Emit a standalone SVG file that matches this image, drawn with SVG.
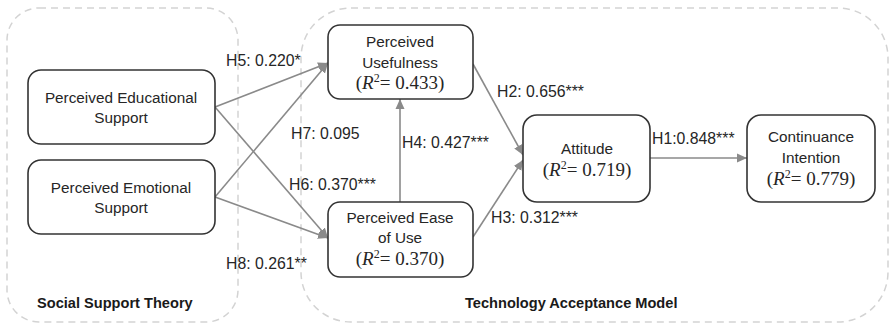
<svg xmlns="http://www.w3.org/2000/svg" width="889" height="324" viewBox="0 0 889 324">
<style>
.grp{fill:none;stroke:#d3d3d3;stroke-width:1.5;stroke-dasharray:7,5}
.box{fill:#fff;stroke:#333;stroke-width:1.6}
.t{font-family:"Liberation Sans",Arial,sans-serif;font-size:15.3px;fill:#262626;text-anchor:middle}
.m{font-family:"Liberation Serif","Times New Roman",serif;font-size:19px;fill:#262626;text-anchor:middle}
.lbl{font-family:"Liberation Sans",Arial,sans-serif;font-size:15.8px;fill:#262626}
.bold{font-family:"Liberation Sans",Arial,sans-serif;font-size:14.6px;font-weight:bold;fill:#1a1a1a}
.c{stroke:#8a8a8a;stroke-width:1.6;fill:none;marker-end:url(#ah)}
</style>
<defs>
<marker id="ah" viewBox="0 0 10 10" refX="10" refY="5" markerWidth="10" markerHeight="10" markerUnits="userSpaceOnUse" orient="auto">
<path d="M0,0.5 L10,5 L0,9.5 Z" fill="#8a8a8a"/>
</marker>
</defs>
<g id="group-sst">
<rect class="grp" x="7" y="8" width="231" height="314" rx="32"/>
<text class="bold" x="37" y="308">Social Support Theory</text>
</g>
<g id="group-tam">
<rect class="grp" x="301" y="8" width="587" height="314" rx="50"/>
<text class="bold" x="465" y="308">Technology Acceptance Model</text>
</g>
<g id="connectors">
<line class="c" x1="215" y1="107" x2="328" y2="63"/>
<line class="c" x1="215" y1="197" x2="328" y2="63"/>
<line class="c" x1="215" y1="107" x2="328" y2="238"/>
<line class="c" x1="215" y1="197" x2="328" y2="238"/>
<line class="c" x1="400" y1="202" x2="400" y2="99"/>
<line class="c" x1="473" y1="64" x2="523" y2="155"/>
<line class="c" x1="473" y1="237" x2="523" y2="160"/>
<line class="c" x1="650" y1="158" x2="747" y2="158"/>
<text class="lbl" x="226" y="66">H5: 0.220*</text>
<text class="lbl" x="291" y="139">H7: 0.095</text>
<text class="lbl" x="289" y="190">H6: 0.370***</text>
<text class="lbl" x="226" y="269">H8: 0.261**</text>
<text class="lbl" x="402" y="148">H4: 0.427***</text>
<text class="lbl" x="497" y="97">H2: 0.656***</text>
<text class="lbl" x="491" y="223">H3: 0.312***</text>
<text class="lbl" x="652" y="144">H1:0.848***</text>
</g>
<g id="node-pes">
<rect class="box" x="28" y="70" width="187" height="74" rx="13"/>
<text class="t" x="121" y="103">Perceived Educational</text>
<text class="t" x="121" y="123">Support</text>
</g>
<g id="node-pems">
<rect class="box" x="28" y="160" width="187" height="74" rx="13"/>
<text class="t" x="121" y="193">Perceived Emotional</text>
<text class="t" x="121" y="213">Support</text>
</g>
<g id="node-pu">
<rect class="box" x="328" y="25" width="145" height="74" rx="12"/>
<text class="t" x="400" y="47">Perceived</text>
<text class="t" x="400" y="68">Usefulness</text>
<text class="m" x="400" y="89">(<tspan font-style="italic">R</tspan><tspan font-size="12" dy="-7">2</tspan><tspan dy="7">= 0.433)</tspan></text>
</g>
<g id="node-peou">
<rect class="box" x="328" y="202" width="145" height="75" rx="12"/>
<text class="t" x="400" y="223">Perceived Ease</text>
<text class="t" x="400" y="243">of Use</text>
<text class="m" x="400" y="265">(<tspan font-style="italic">R</tspan><tspan font-size="12" dy="-7">2</tspan><tspan dy="7">= 0.370)</tspan></text>
</g>
<g id="node-att">
<rect class="box" x="523" y="115" width="127" height="87" rx="14"/>
<text class="t" x="587" y="154">Attitude</text>
<text class="m" x="587" y="176">(<tspan font-style="italic">R</tspan><tspan font-size="12" dy="-7">2</tspan><tspan dy="7">= 0.719)</tspan></text>
</g>
<g id="node-ci">
<rect class="box" x="747" y="115" width="128" height="87" rx="14"/>
<text class="t" x="811" y="142">Continuance</text>
<text class="t" x="811" y="163">Intention</text>
<text class="m" x="811" y="185">(<tspan font-style="italic">R</tspan><tspan font-size="12" dy="-7">2</tspan><tspan dy="7">= 0.779)</tspan></text>
</g>
</svg>
